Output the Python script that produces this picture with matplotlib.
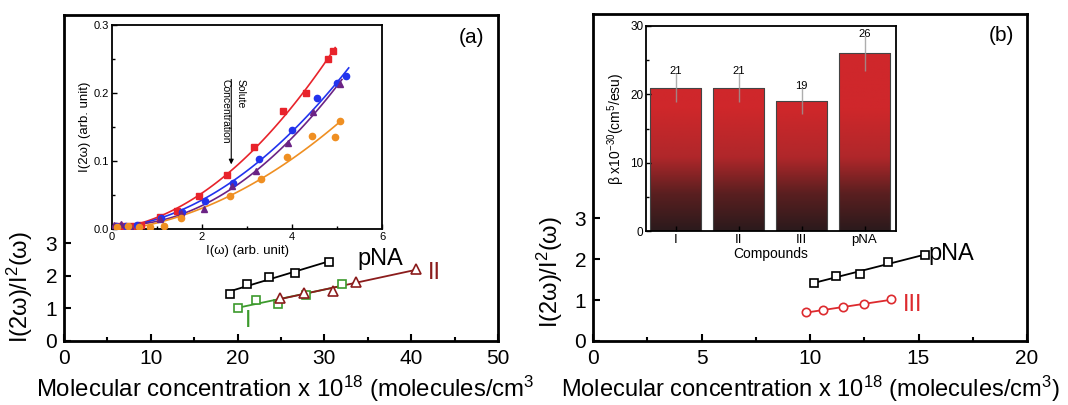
import numpy as np
import matplotlib
matplotlib.use("Agg")
import matplotlib.pyplot as plt
from matplotlib.colors import LinearSegmentedColormap
from matplotlib.transforms import Bbox

plt.rcParams['font.family'] = ['Liberation Sans', 'DejaVu Sans']
plt.rcParams['mathtext.fontset'] = 'custom'
plt.rcParams['mathtext.rm'] = 'Liberation Sans'
plt.rcParams['mathtext.it'] = 'Liberation Sans'

# ---------------- data: panel (a) main ----------------
a_pna_x = [19.1, 21.1, 23.6, 26.6, 30.5]
a_pna_y = [1.44, 1.74, 1.97, 2.10, 2.42]
a_I_x = [20.0, 22.1, 24.6, 27.9, 32.0]
a_I_y = [1.01, 1.26, 1.15, 1.41, 1.75]
a_II_x = [24.9, 27.6, 31.0, 33.6, 40.5]
a_II_y = [1.32, 1.46, 1.53, 1.82, 2.20]

# ---------------- data: panel (a) inset ----------------
in_red_x = [0.10, 0.25, 0.45, 0.65, 1.06, 1.45, 1.93, 2.56, 3.15, 3.81, 4.32, 4.80, 4.91]
in_red_y = [0.004, 0.005, 0.004, 0.006, 0.017, 0.027, 0.049, 0.080, 0.121, 0.173, 0.200, 0.250, 0.262]
in_blue_x = [0.08, 0.30, 0.55, 1.08, 1.56, 2.07, 2.69, 3.27, 3.99, 4.55, 5.01, 5.21]
in_blue_y = [0.005, 0.004, 0.006, 0.016, 0.025, 0.041, 0.068, 0.103, 0.145, 0.193, 0.214, 0.225]
in_purple_x = [0.05, 0.20, 0.40, 0.60, 1.06, 1.54, 2.04, 2.67, 3.21, 3.92, 4.47, 5.06]
in_purple_y = [0.006, 0.007, 0.005, 0.006, 0.014, 0.023, 0.030, 0.063, 0.086, 0.127, 0.172, 0.213]
in_orange_x = [0.12, 0.35, 0.60, 0.85, 1.16, 1.53, 2.63, 3.30, 3.89, 4.45, 4.95, 5.06]
in_orange_y = [0.003, 0.004, 0.003, 0.003, 0.005, 0.016, 0.048, 0.073, 0.106, 0.137, 0.136, 0.159]

# ---------------- data: panel (b) main ----------------
b_pna_x = [10.2, 11.2, 12.3, 13.6, 15.3]
b_pna_y = [1.42, 1.59, 1.64, 1.94, 2.10]
b_III_x = [9.8, 10.6, 11.5, 12.5, 13.75]
b_III_y = [0.70, 0.76, 0.82, 0.90, 1.02]

# ---------------- data: panel (b) inset ----------------
compounds = ['I', 'II', 'III', 'pNA']
beta = [21, 21, 19, 26]
beta_err = [2.1, 2.1, 1.9, 2.6]

W, H = 1068, 405
fig = plt.figure(figsize=(W / 100, H / 100), dpi=100)


def px_axes(l, r, t, b):
    return fig.add_axes([l / W, (H - b) / H, (r - l) / W, (b - t) / H])


def style_main(ax):
    for s in ax.spines.values():
        s.set_linewidth(2.0)
    ax.tick_params(direction='in', which='both', top=False, right=False,
                   labelsize=15, width=1.5)
    ax.tick_params(which='major', length=5)
    ax.tick_params(which='minor', length=3)
    ax.tick_params(axis='x', pad=6)
    ax.tick_params(axis='y', pad=5)


def style_inset(ax, size):
    for s in ax.spines.values():
        s.set_linewidth(1.3)
    ax.tick_params(direction='in', which='both', top=False, right=False,
                   labelsize=size, width=1.0, pad=2)
    ax.tick_params(which='major', length=3.5)
    ax.tick_params(which='minor', length=2)


def fit_line(ax, x, y, color):
    p = np.polyfit(x, y, 1)
    xx = np.array([min(x), max(x)])
    ax.plot(xx, np.polyval(p, xx), color=color, lw=1.3, zorder=2)


XLABEL = 'Molecular concentration x 10$^{18}$ (molecules/cm$^3$)'
YLABEL = 'I(2ω)/I$^2$(ω)'

# ======================= Panel (a) =======================
axa = px_axes(64, 498, 15, 341)
style_main(axa)
axa.set_xlim(0, 50)
axa.set_ylim(0, 10)
axa.set_xticks([0, 10, 20, 30, 40, 50])
axa.set_xticks([5, 15, 25, 35, 45], minor=True)
axa.set_yticks([0, 1, 2, 3])

mk = dict(ms=6, mfc='white', mew=1.2, ls='none', zorder=3)
fit_line(axa, a_pna_x, a_pna_y, 'black')
fit_line(axa, a_I_x, a_I_y, '#3c9a2c')
fit_line(axa, a_II_x, a_II_y, '#8b1c1c')
axa.plot(a_pna_x, a_pna_y, marker='s', color='black', **mk)
axa.plot(a_I_x, a_I_y, marker='s', color='#3c9a2c', **mk)
axa.plot(a_II_x, a_II_y, marker='^', color='#8b1c1c', **dict(mk, ms=7))
axa.text(33.8, 2.5, 'pNA', fontsize=17, color='black', va='center', ha='left')
axa.text(41.9, 2.08, 'II', fontsize=17, color='#8b1c1c', va='center', ha='left')
axa.text(21.2, 0.62, 'I', fontsize=17, color='#3c9a2c', va='center', ha='center')
axa.text(0.94, 0.93, '(a)', transform=axa.transAxes, fontsize=15, ha='center', va='center')

axa.set_ylabel(YLABEL, fontsize=17)
axa.yaxis.set_label_coords(-0.067, 0.166)
xl = axa.set_xlabel(XLABEL, fontsize=17.3)
axa.xaxis.set_label_coords(0.518, -0.10)
xl.set_clip_box(Bbox.from_bounds(0, 0, 534, H))
xl.set_clip_on(True)

# inset (a)
ina = px_axes(112, 382, 25, 229)
style_inset(ina, 8)
ina.set_xlim(0, 6)
ina.set_ylim(0, 0.3)
ina.set_xticks([0, 2, 4, 6])
ina.set_xticks([1, 3, 5], minor=True)
ina.set_yticks([0.0, 0.1, 0.2, 0.3])
ina.set_yticks([0.05, 0.15, 0.25], minor=True)
ina.yaxis.set_major_formatter(matplotlib.ticker.FormatStrFormatter('%.1f'))

series = [
    (in_red_x, in_red_y, '#e8232b', 's'),
    (in_blue_x, in_blue_y, '#2233ee', 'o'),
    (in_purple_x, in_purple_y, '#6b2385', '^'),
    (in_orange_x, in_orange_y, '#ef8f22', 'o'),
]
for x, y, c, m in series:
    p = np.polyfit(x, y, 2)
    xx = np.linspace(0.3, max(x) + 0.05, 100)
    ina.plot(xx, np.polyval(p, xx), color=c, lw=1.2, zorder=2)
    ina.plot(x, y, marker=m, color=c, ms=4.5, ls='none', zorder=3)

ina.annotate('', xy=(2.65, 0.091), xytext=(2.65, 0.224),
             arrowprops=dict(arrowstyle='-|>', color='black', lw=0.8,
                             mutation_scale=7))
ina.text(2.53, 0.22, 'Concentration', rotation=-90, fontsize=7.5, ha='center', va='top')
ina.text(2.86, 0.22, 'Solute', rotation=-90, fontsize=7.5, ha='center', va='top')
ina.set_xlabel('I(ω) (arb. unit)', fontsize=9.5, labelpad=2)
ina.set_ylabel('I(2ω) (arb. unit)', fontsize=9.5, labelpad=2)

# ======================= Panel (b) =======================
axb = px_axes(593, 1027, 14, 341)
style_main(axb)
axb.set_xlim(0, 20)
axb.set_ylim(0, 8)
axb.set_xticks([0, 5, 10, 15, 20])
axb.set_xticks([2.5, 7.5, 12.5, 17.5], minor=True)
axb.set_yticks([0, 1, 2, 3])

fit_line(axb, b_pna_x, b_pna_y, 'black')
fit_line(axb, b_III_x, b_III_y, '#dd2a2e')
axb.plot(b_pna_x, b_pna_y, marker='s', color='black', **mk)
axb.plot(b_III_x, b_III_y, marker='o', color='#dd2a2e', **mk)
axb.text(15.45, 2.12, 'pNA', fontsize=17, color='black', va='center', ha='left')
axb.text(14.3, 0.87, 'III', fontsize=17, color='#dd2a2e', va='center', ha='left')
axb.text(0.94, 0.935, '(b)', transform=axb.transAxes, fontsize=15, ha='center', va='center')

axb.set_ylabel(YLABEL, fontsize=17)
axb.yaxis.set_label_coords(-0.065, 0.21)
axb.set_xlabel(XLABEL, fontsize=17)
axb.xaxis.set_label_coords(0.5, -0.10)

# inset (b)
inb = px_axes(646, 896, 26, 231)
style_inset(inb, 8.5)
inb.set_xlim(-0.47, 3.5)
inb.set_ylim(0, 30)
inb.set_yticks([0, 10, 20, 30])
inb.set_yticks([5, 15, 25], minor=True)
xpos = np.arange(len(compounds))
inb.set_xticks(xpos)
inb.set_xticklabels(compounds)
inb.tick_params(axis='x', labelsize=9.5)

cmap = LinearSegmentedColormap.from_list(
    'grad', [(0.0, '#2b1a1c'), (0.3, '#5a1f20'), (0.6, '#b0272a'), (1.0, '#cf272b')])
grad = np.clip(np.linspace(0, 30, 300) / 18.0, 0, 1).reshape(-1, 1)
bars = inb.bar(xpos, beta, width=0.82, color='none', edgecolor='#444444', lw=0.8, zorder=2)
for bar in bars:
    im = inb.imshow(grad, cmap=cmap, vmin=0, vmax=1, origin='lower', aspect='auto',
                    extent=[bar.get_x(), bar.get_x() + bar.get_width(), 0, 30], zorder=1)
    im.set_clip_path(bar)
inb.set_xlim(-0.47, 3.5)
inb.set_ylim(0, 30)
inb.errorbar(xpos, beta, yerr=beta_err, fmt='none', ecolor='#9a9a9a', elinewidth=1.0,
             capsize=0, zorder=3, alpha=0.8)
for xp, v, e in zip(xpos, beta, beta_err):
    inb.text(xp, v + e + 0.3, str(v), ha='center', va='center', fontsize=8,
             clip_on=False, zorder=4)
inb.set_xlabel('Compounds', fontsize=10, labelpad=1)
inb.set_ylabel('β x10$^{-30}$(cm$^5$/esu)', fontsize=10, labelpad=2)

fig.savefig('out.png', dpi=100)
